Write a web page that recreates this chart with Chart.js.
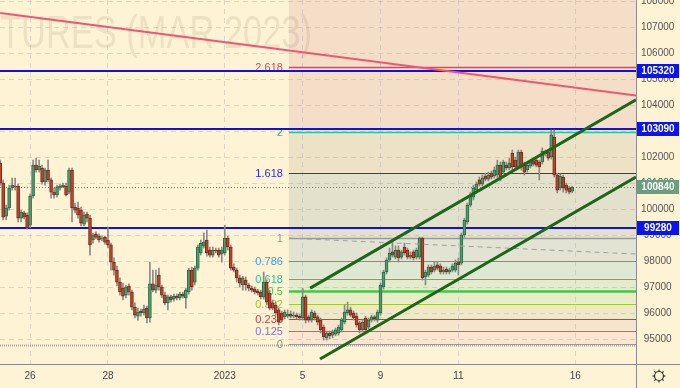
<!DOCTYPE html>
<html>
<head>
<meta charset="utf-8">
<script src="https://cdn.jsdelivr.net/npm/chart.js@4.4.0/dist/chart.umd.min.js"></script>
<style>
    html, body { margin: 0; padding: 0; background: #fff3d5; }
    #wrap { width: 680px; height: 388px; }
</style>
</head>
<body>
<div id="wrap"><canvas id="chart" width="680" height="388"></canvas></div>
<script>
// ===================================
// DADOS - candles (barras intraday)
// ===================================
const firstBar = -10;

const opens = [
    101770, 101000, 99730, 100040, 100810, 100880, 100880, 99650, 99850, 99770,
    99380, 100500, 101690, 101500, 101580, 101040, 101500, 101120, 100650, 100540,
    100810, 100850, 100880, 100650, 101500, 100080, 100040, 99960, 99420, 99810,
    99650, 98810, 99040, 98960, 98850, 98920, 98810, 98620, 97960, 97650,
    97190, 96960, 96690, 97040, 96810, 96230, 95880, 96080, 96000, 96190,
    95810, 97120, 96880, 97460, 97000, 96690, 96390, 96620, 96540, 96650,
    96580, 96730, 96580, 96810, 97650, 97190, 97730, 98310, 98580, 98810,
    98420, 98230, 98420, 98420, 98270, 98310, 98880, 98540, 97770, 97650,
    97350, 97080, 97270, 97080, 96960, 96920, 96850, 96810, 96620, 97190,
    96770, 96390, 96310, 96120, 96000, 95850, 95880, 95960, 95880, 95920,
    95880, 95810, 96620, 95850, 95730, 96000, 95850, 95730, 95460, 95040,
    95230, 95150, 95190, 95230, 95350, 95650, 96000, 96120, 96000, 95880,
    95620, 95350, 95810, 95460, 95730, 95850, 95730, 96000, 97000, 97580,
    98040, 98350, 98150, 98420, 98150, 98540, 98420, 98150, 98350, 98150,
    98150, 98880, 97390, 97460, 97770, 97650, 97850, 97810, 97580, 97690,
    97580, 97650, 97650, 97960, 97920, 99000, 99500, 100150, 100460, 100730,
    101120, 100960, 101270, 101150, 101380, 101270, 101310, 101690, 101420, 101690,
    101580, 102150, 101880, 101620, 102190, 101690, 101500, 101650, 101850, 101880,
    101810, 101810, 102120, 102190, 102000, 102770, 101310, 100810, 101230, 100920,
    100810, 100690
];

const highs = [
    101880, 101120, 100150, 100920, 101190, 101190, 100960, 99960, 99920, 99850,
    100580, 101880, 101960, 101880, 101690, 101580, 101880, 101190, 100810, 100920,
    100960, 101000, 101000, 101580, 101580, 100230, 100270, 100080, 99880, 99880,
    99770, 99080, 99120, 99040, 98960, 98960, 99310, 98690, 98120, 97810,
    97350, 97150, 97080, 97120, 96880, 96390, 96190, 96150, 96310, 96270,
    97960, 97650, 97650, 97730, 97080, 96810, 96690, 96690, 96730, 96730,
    96810, 96810, 96960, 97730, 97770, 97810, 98620, 98810, 99080, 99190,
    98540, 98540, 98500, 98500, 98540, 99380, 98960, 98620, 97890, 97730,
    97460, 97420, 97390, 97150, 97040, 97000, 96920, 96880, 97580, 97270,
    96880, 96500, 96420, 96190, 96080, 96120, 96120, 96080, 96040, 96000,
    95960, 96960, 96690, 95920, 96120, 96080, 95920, 95810, 95540, 95310,
    95310, 95350, 95420, 95540, 95810, 96310, 96420, 96230, 96080, 96000,
    95690, 95730, 95880, 95810, 95920, 95920, 96120, 97150, 97650, 98120,
    98500, 98730, 98580, 98580, 98420, 98690, 98500, 98350, 98420, 98500,
    98920, 98920, 97650, 97850, 97850, 97960, 97960, 97890, 97770, 97770,
    97730, 97890, 98040, 98120, 99080, 99650, 100230, 100650, 100920, 101040,
    101230, 101310, 101380, 101420, 101460, 101620, 101880, 101810, 101880, 101810,
    101960, 102270, 102000, 102270, 102270, 101810, 101770, 101880, 101960, 102000,
    101880, 102350, 102270, 102270, 103040, 103040, 101380, 101350, 101310, 101000,
    100880, 100880
];

const lows = [
    100920, 99580, 99580, 99960, 100730, 100730, 99500, 99500, 99620, 99230,
    99270, 100420, 101420, 101420, 100960, 100920, 101040, 100420, 100420, 100460,
    100730, 100810, 100500, 100580, 99500, 99850, 99650, 99350, 99350, 99500,
    98230, 98690, 98850, 98730, 98770, 98650, 98500, 97650, 97460, 97040,
    96690, 96500, 96580, 96690, 96120, 95810, 95730, 95880, 95920, 95620,
    95650, 96810, 96770, 96880, 96580, 96310, 96120, 96420, 96460, 96500,
    96500, 96580, 96190, 96730, 96880, 97080, 97650, 98230, 98500, 98190,
    98150, 98150, 98310, 98150, 97960, 98230, 98420, 97650, 97580, 97190,
    97000, 96880, 96880, 96850, 96810, 96730, 96690, 96540, 96540, 96310,
    96120, 96120, 95920, 95540, 95650, 95770, 95810, 95810, 95810, 95770,
    95730, 95730, 95620, 95650, 95650, 95730, 95540, 95230, 94960, 94960,
    95000, 95040, 95120, 95150, 95270, 95580, 95920, 95850, 95730, 95460,
    95230, 95270, 95270, 95390, 95650, 95690, 95650, 95920, 96920, 97500,
    97960, 98150, 98080, 97960, 98080, 98230, 98080, 98080, 98040, 98080,
    98080, 97270, 97080, 97390, 97500, 97580, 97650, 97500, 97500, 97500,
    97500, 97580, 97580, 97460, 97850, 98920, 99420, 100080, 100350, 100650,
    100880, 100880, 101080, 101080, 101150, 101190, 101190, 101080, 101350, 101500,
    101500, 101500, 101500, 101540, 101500, 101310, 101420, 101580, 101650, 101620,
    101120, 101730, 102040, 101880, 101920, 101230, 100620, 100730, 100650, 100620,
    100580, 100620
];

const closes = [
    101000, 99690, 100040, 100810, 100920, 100850, 99650, 99880, 99690, 99270,
    100500, 101690, 101500, 101650, 101040, 101500, 101120, 100650, 100540, 100850,
    100880, 100920, 100540, 101500, 100040, 99960, 99770, 99460, 99770, 99650,
    98620, 99000, 98920, 98810, 98880, 98730, 98620, 97960, 97650, 97190,
    96810, 96650, 97000, 96810, 96230, 95920, 96040, 96000, 96150, 95810,
    97120, 96880, 97080, 97000, 96690, 96390, 96620, 96500, 96650, 96580,
    96730, 96650, 96880, 97650, 97000, 97730, 98540, 98690, 98730, 98310,
    98230, 98420, 98390, 98230, 98420, 98880, 98540, 97730, 97650, 97350,
    97150, 97350, 97080, 96960, 96880, 96810, 96770, 96620, 97190, 96420,
    96190, 96190, 96000, 95650, 95730, 96040, 95960, 95880, 95920, 95850,
    95810, 96620, 95730, 95730, 96040, 95810, 95650, 95350, 95080, 95230,
    95120, 95270, 95350, 95460, 95730, 96040, 96120, 95920, 95810, 95540,
    95350, 95650, 95350, 95730, 95850, 95770, 96040, 97080, 97580, 98040,
    98310, 98230, 98420, 98120, 98350, 98310, 98150, 98230, 98120, 98420,
    98880, 97350, 97580, 97770, 97580, 97810, 97730, 97580, 97650, 97580,
    97650, 97810, 97920, 97850, 99000, 99580, 100150, 100540, 100810, 100960,
    100960, 101190, 101150, 101310, 101230, 101500, 101690, 101230, 101810, 101580,
    101770, 101620, 101620, 102190, 101620, 101420, 101690, 101810, 101730, 101690,
    101620, 102230, 102190, 101960, 102850, 101310, 100730, 101270, 100810, 100730,
    100650, 100840
];

// Eixos
const dateTickBars = [0, 26, 65, 91, 117, 143, 182];
const dateTickLabels = ['26', '28', '2023', '5', '9', '11', '16'];
const priceTicks = [95000, 96000, 97000, 98000, 99000, 100000, 101000, 102000,
    103000, 104000, 105000, 106000, 107000, 108000];

// Fibonacci
const fibStartBar = 86.4;
const fibZero = 94810;
const fibOne = 98880;
const fibRatios = [0, 0.125, 0.236, 0.382, 0.5, 0.618, 0.786, 1, 1.618, 2, 2.618];
const fibLabels = ['0', '0.125', '0.236', '0.382', '0.5', '0.618', '0.786', '1', '1.618', '2', '2.618'];

// Níveis horizontais e preço atual
const levelPrices = [105320, 103090, 99280];
const lastPrice = 100840;

// Linhas de tendência [barra, preço]
const redTrend = [[-10, 107540], [202.3, 104370]];
const upperChannel = [[93.5, 96960], [202.3, 104200]];
const lowerChannel = [[96.8, 94230], [202.3, 101230]];
const dashedTrend = [[86.4, 98880], [202.3, 98270]];

// ===================================
// ESTILOS
// ===================================
const BG = '#fff3d5';
const fibColors = ['#9a9a9a', '#8a6fd0', '#d03a3a', '#a2c832', '#44c844', '#22c898',
    '#3c9ce6', '#9a9a9a', '#2828ff', '#20c8a8', '#f04050'];
const fibWidths = [1, 1, 1, 1, 2.5, 1, 1, 1.5, 1, 1.5, 1.5];
const fibFills = ['#fce6cf', '#f6e4cc', '#efe9c9', '#e9ebc9', '#e3ebcc', '#dfe8d2',
    '#e2e3d3', '#e3e0cb', '#ede2c6', '#f5dec8'];
const fibTopFill = '#f5dec8';
const levelColor = '#1010e0';

const bars = opens.map((o, i) => firstBar + i);
const isUp = opens.map((o, i) => closes[i] >= o);

function segment(points) {
    return points.map(p => ({ x: p[0], y: p[1] }));
}

/**
 * Desenhos extras: fundo, fibonacci, níveis, selos do eixo
 */
const chartDecor = {
    id: 'chartDecor',
    beforeDraw(chart) {
        const { ctx, chartArea: a, scales: { x, y } } = chart;
        ctx.save();
        ctx.fillStyle = BG;
        ctx.fillRect(0, 0, chart.width, chart.height);

        // Faixas do fibonacci
        const fx = x.getPixelForValue(fibStartBar);
        const lv = fibRatios.map(r => y.getPixelForValue(fibZero + r * (fibOne - fibZero)));
        for (let i = 0; i < lv.length - 1; i++) {
            ctx.fillStyle = fibFills[i];
            ctx.fillRect(fx, lv[i + 1], a.right - fx, lv[i] - lv[i + 1]);
        }
        ctx.fillStyle = fibTopFill;
        ctx.fillRect(fx, a.top, a.right - fx, lv[lv.length - 1] - a.top);

        // Marca d'água
        ctx.font = '46px "Liberation Sans", Arial, sans-serif';
        const w = ctx.measureText('TURES (MAR 2023)').width;
        const sx = 312 / w;
        ctx.translate(312, 48);
        ctx.scale(sx, 1);
        ctx.textAlign = 'right';
        ctx.textBaseline = 'alphabetic';
        ctx.fillStyle = 'rgba(90, 80, 60, 0.11)';
        ctx.fillText('FUTURES (MAR 2023)', 0, 0);
        ctx.restore();
    },
    beforeDatasetsDraw(chart) {
        const { ctx, chartArea: a, scales: { x, y } } = chart;
        const fx = x.getPixelForValue(fibStartBar);
        ctx.save();

        // Linha pontilhada no nível zero
        const y0 = Math.round(y.getPixelForValue(fibZero)) + 0.5;
        ctx.setLineDash([1, 1]);
        ctx.strokeStyle = '#b0a898';
        ctx.lineWidth = 2;
        ctx.beginPath(); ctx.moveTo(a.left, y0 + 1); ctx.lineTo(a.right, y0 + 1); ctx.stroke();

        // Preço atual
        const yp = Math.round(y.getPixelForValue(lastPrice)) + 0.5;
        ctx.setLineDash([1, 2]);
        ctx.strokeStyle = '#4f9a6c';
        ctx.lineWidth = 1;
        ctx.beginPath(); ctx.moveTo(a.left, yp); ctx.lineTo(a.right, yp); ctx.stroke();
        ctx.setLineDash([]);

        // Níveis do fibonacci
        ctx.font = '11px "Liberation Sans", Arial, sans-serif';
        ctx.textAlign = 'right';
        ctx.textBaseline = 'middle';
        fibRatios.forEach((r, i) => {
            const py = Math.round(y.getPixelForValue(fibZero + r * (fibOne - fibZero))) + 0.5;
            ctx.strokeStyle = fibColors[i];
            ctx.lineWidth = fibWidths[i];
            ctx.beginPath(); ctx.moveTo(fx, py); ctx.lineTo(a.right, py); ctx.stroke();
            ctx.fillStyle = fibColors[i];
            ctx.fillText(fibLabels[i], fx - 6, py);
        });

        // Níveis horizontais
        ctx.strokeStyle = levelColor;
        ctx.lineWidth = 2;
        levelPrices.forEach(p => {
            const py = Math.round(y.getPixelForValue(p));
            ctx.beginPath(); ctx.moveTo(a.left, py); ctx.lineTo(a.right, py); ctx.stroke();
        });
        ctx.restore();
    },
    afterDraw(chart) {
        const { ctx, chartArea: a, scales: { y } } = chart;
        ctx.save();

        // Separadores
        ctx.strokeStyle = '#8c8c8c';
        ctx.lineWidth = 1;
        ctx.beginPath();
        ctx.moveTo(a.right + 0.5, 0); ctx.lineTo(a.right + 0.5, chart.height);
        ctx.moveTo(0, a.bottom + 0.5); ctx.lineTo(chart.width, a.bottom + 0.5);
        ctx.stroke();

        // Selos no eixo de preço
        ctx.font = 'bold 10px "Liberation Sans", Arial, sans-serif';
        ctx.textAlign = 'center';
        ctx.textBaseline = 'middle';
        const badges = levelPrices.map(p => ({ p, c: '#0a14f0' }))
            .concat([{ p: lastPrice, c: '#6a9e7e' }]);
        badges.forEach(b => {
            const py = Math.round(y.getPixelForValue(b.p));
            ctx.fillStyle = b.c;
            ctx.fillRect(a.right + 1, py - 7, 42, 14);
            ctx.fillStyle = '#ffffff';
            ctx.fillText(String(b.p), a.right + 22, py + 0.5);
        });

        // Ícone de engrenagem
        const gx = 659, gy = 376;
        ctx.strokeStyle = '#333333';
        ctx.lineWidth = 1.2;
        ctx.beginPath(); ctx.arc(gx, gy, 4.5, 0, Math.PI * 2); ctx.stroke();
        for (let k = 0; k < 8; k++) {
            const t = k * Math.PI / 4;
            ctx.beginPath();
            ctx.moveTo(gx + Math.cos(t) * 4.5, gy + Math.sin(t) * 4.5);
            ctx.lineTo(gx + Math.cos(t) * 6.5, gy + Math.sin(t) * 6.5);
            ctx.stroke();
        }
        ctx.restore();
    }
};

function lineSet(points, color, width, dash) {
    return {
        type: 'line',
        data: segment(points),
        borderColor: color,
        borderWidth: width,
        borderDash: dash || [],
        pointRadius: 0,
        fill: false,
        order: 0
    };
}

new Chart(document.getElementById('chart'), {
    type: 'bar',
    data: {
        datasets: [
            lineSet(redTrend, '#f25570', 2),
            lineSet(upperChannel, '#1b661b', 3),
            lineSet(lowerChannel, '#1b661b', 3),
            lineSet(dashedTrend, '#a0a0a0', 1, [5, 4]),
            {
                data: bars.map((b, i) => ({ x: b, y: [opens[i], closes[i]] })),
                backgroundColor: isUp.map(u => u ? '#4f9c6e' : '#c0432e'),
                borderColor: isUp.map(u => u ? '#2d6a45' : '#7a2a1a'),
                borderWidth: 1,
                borderSkipped: false,
                barThickness: 3,
                grouped: false,
                order: 1
            },
            {
                data: bars.map((b, i) => ({ x: b, y: [lows[i], highs[i]] })),
                backgroundColor: '#8a8a84',
                barThickness: 1,
                grouped: false,
                order: 2
            }
        ]
    },
    options: {
        responsive: false,
        animation: false,
        devicePixelRatio: 1,
        layout: { padding: 0 },
        plugins: { legend: { display: false }, tooltip: { enabled: false } },
        scales: {
            x: {
                type: 'linear',
                min: -10.05,
                max: 202.3,
                offset: false,
                afterBuildTicks: s => { s.ticks = dateTickBars.map(v => ({ value: v })); },
                afterFit: s => { s.height = 24; s.paddingLeft = 0; s.paddingRight = 0; },
                grid: { offset: false, drawTicks: false, color: 'rgba(150,150,175,0.3)' },
                border: { display: false, dash: [5, 4] },
                ticks: {
                    padding: 6,
                    maxRotation: 0,
                    autoSkip: false,
                    color: '#444444',
                    font: { size: 10, family: '"Liberation Sans", Arial, sans-serif' },
                    callback: v => dateTickLabels[dateTickBars.indexOf(v)]
                }
            },
            y: {
                position: 'right',
                min: 94040,
                max: 108040,
                afterBuildTicks: s => { s.ticks = priceTicks.map(v => ({ value: v })); },
                afterFit: s => { s.width = 44; s.paddingTop = 0; s.paddingBottom = 0; },
                grid: { drawTicks: false, color: 'rgba(150,150,175,0.3)' },
                border: { display: false, dash: [5, 4] },
                ticks: {
                    padding: 5,
                    crossAlign: 'center',
                    autoSkip: false,
                    color: '#555555',
                    font: { size: 10, family: '"Liberation Sans", Arial, sans-serif' },
                    callback: v => String(v)
                }
            }
        }
    },
    plugins: [chartDecor]
});
</script>
</body>
</html>
